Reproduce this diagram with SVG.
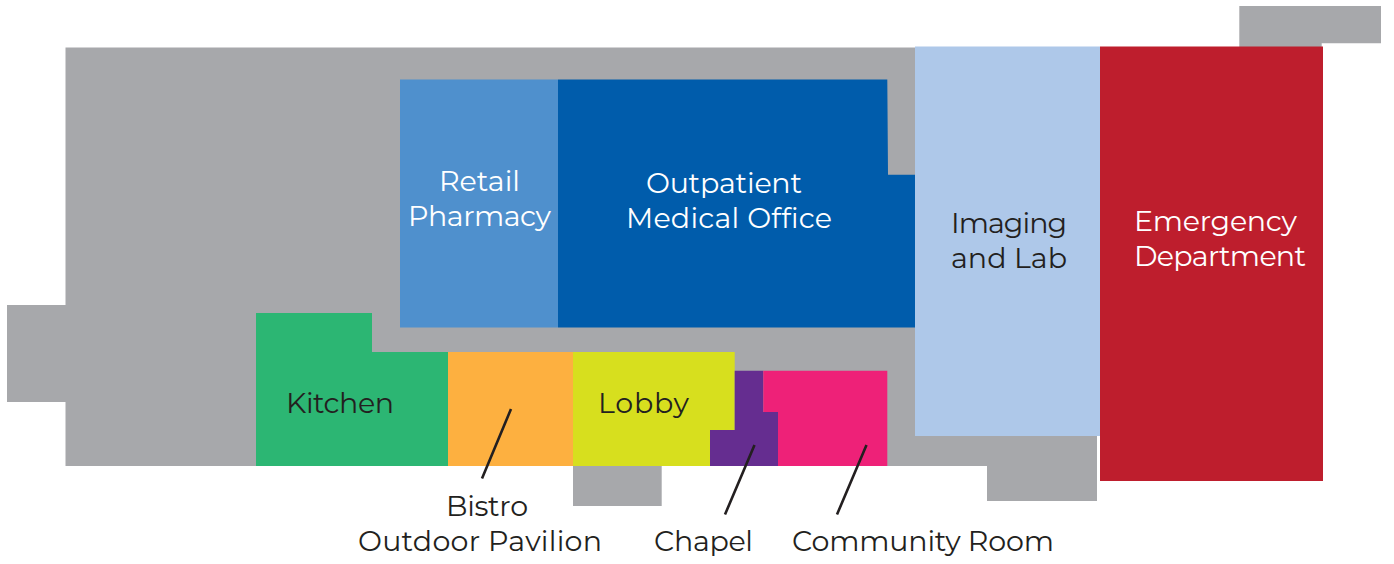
<svg xmlns="http://www.w3.org/2000/svg" width="1394" height="564" viewBox="0 0 1394 564">
<style>
text{font-family:"Montserrat","Open Sans","Liberation Sans",sans-serif;font-size:28.5px;text-anchor:middle}
.w{fill:#fff}.d{fill:#231f20}
.l{stroke:#231f20;stroke-width:2.6;fill:none}
</style>
<rect width="1394" height="564" fill="#fff"/>
<g id="building"><path fill="#a7a8ab" d="M65.500 47.500H1100V436H1097V501H987V466H661.700V506H573V466H65.500V402H7V305H65.500Z"/><path fill="#a7a8ab" d="M1239.300 6H1381V43.300H1321.700V47H1239.300Z"/></g>
<g id="retail-pharmacy"><rect x="400" y="79.500" width="158" height="248" fill="#4f90cd"/><text class="w" x="479.500" y="191" textLength="81">Retail</text><text class="w" x="479.500" y="226" textLength="143">Pharmacy</text></g>
<g id="outpatient"><path fill="#005cab" d="M558 79.500H887.300L888 174.700H915V327.500H558Z"/><text class="w" x="724" y="193" textLength="156">Outpatient</text><text class="w" x="729" y="228" textLength="206">Medical Office</text></g>
<g id="imaging"><rect x="915" y="46.500" width="185" height="389.500" fill="#aec8e9"/><text class="d" x="1009" y="233" textLength="116">Imaging</text><text class="d" x="1009" y="268" textLength="116">and Lab</text></g>
<g id="emergency"><rect x="1100" y="46.500" width="223" height="434.500" fill="#be1e2d"/><text class="w" x="1215.500" y="231" textLength="163">Emergency</text><text class="w" x="1220" y="266" textLength="172">Department</text></g>
<g id="kitchen"><path fill="#2cb673" d="M256 313H372V352H448V466H256Z"/><text class="d" x="340" y="413" textLength="108">Kitchen</text></g>
<g id="bistro"><rect x="448" y="352" width="125" height="114" fill="#fdb040"/><text class="d" x="487" y="516" textLength="82">Bistro</text><text class="d" x="480" y="551" textLength="244">Outdoor Pavilion</text></g>
<g id="lobby"><path fill="#d7df1e" d="M573 352H734.700V430H710V466H573Z"/><text class="d" x="643.500" y="413" textLength="91">Lobby</text></g>
<g id="chapel"><path fill="#652d90" d="M734.700 370.700H763.300V412H778V466H710V430H734.700Z"/><text class="d" x="703.500" y="551" textLength="99">Chapel</text></g>
<g id="community-room"><path fill="#ee2178" d="M763.300 370.700H887.300V466H778V412H763.300Z"/><text class="d" x="923" y="551" textLength="262">Community Room</text></g>
<g id="connectors"><path class="l" d="M511 409L482 478.500M754.500 445L725 514.500M866.500 445L837 514.500"/></g>
</svg>
